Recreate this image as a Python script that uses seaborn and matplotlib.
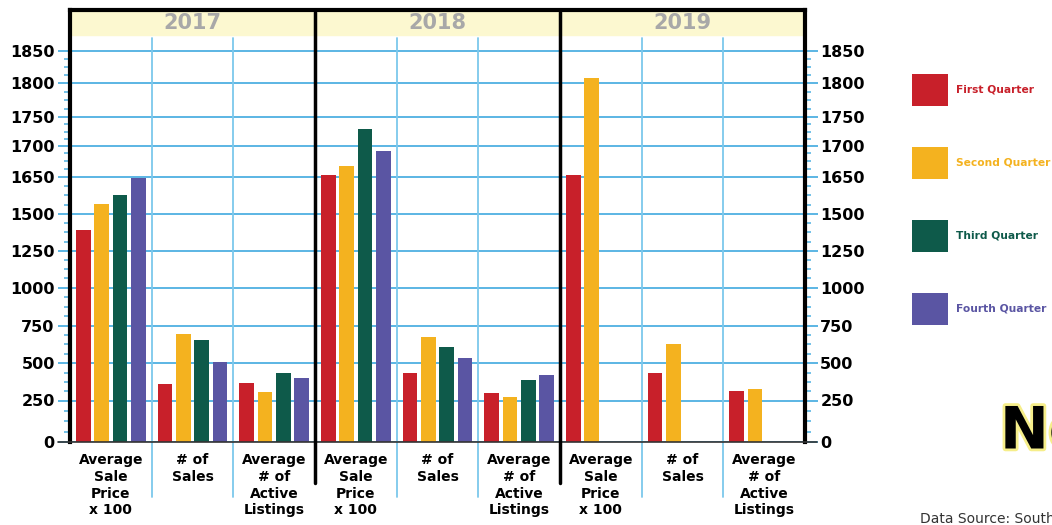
import numpy as np
import pandas as pd
import matplotlib
matplotlib.use("Agg")
import matplotlib.pyplot as plt
import matplotlib.patheffects as pe
from matplotlib.patches import Rectangle
from matplotlib.ticker import FixedLocator
import seaborn as sns

# data
years = ["2017", "2018", "2019"]
metrics = ["Average\nSale\nPrice\nx 100", "# of\nSales", "Average\n# of\nActive\nListings"]
quarters = ["First Quarter", "Second Quarter", "Third Quarter", "Fourth Quarter"]

sale_price_x100 = {"2017": [1391, 1540, 1576, 1645],
                   "2018": [1653, 1667, 1729, 1691],
                   "2019": [1653, 1808, np.nan, np.nan]}
num_sales = {"2017": [360, 694, 654, 508],
             "2018": [434, 672, 606, 533],
             "2019": [434, 626, np.nan, np.nan]}
active_listings = {"2017": [367, 307, 434, 400],
                   "2018": [300, 273, 387, 420],
                   "2019": [313, 327, np.nan, np.nan]}

# the y axis of the original is not linear: tick values and where they sit
y_ticks = [0, 250, 500, 750, 1000, 1250, 1500, 1650, 1700, 1750, 1800, 1850]
y_tick_pos = [0, 41.5, 78.8, 116.5, 154.3, 191.3, 228, 265.3, 296.3, 324.7, 358.7, 391.3]

colors = ["#C8202A", "#F4B21F", "#0E5A4A", "#5A55A3"]

rows = []
for y in years:
    for m, series in zip(metrics, [sale_price_x100, num_sales, active_listings]):
        for q, v in zip(quarters, series[y]):
            rows.append({"cat": y + " " + m, "quarter": q, "value": v})
df = pd.DataFrame(rows)
cat_order = [y + " " + m for y in years for m in metrics]

sv = np.array([-1000] + y_ticks + [2000], dtype=float)
sp = np.array([-166] + y_tick_pos + [y_tick_pos[-1] + 150 * 0.652], dtype=float)

def fwd(v):
    return np.interp(v, sv, sp)

def inv(p):
    return np.interp(p, sp, sv)

sns.set_style("white")
plt.rcParams["font.family"] = ["DejaVu Sans"]
plt.rcParams["text.color"] = "black"
plt.rcParams["xtick.labelcolor"] = "black"
plt.rcParams["ytick.labelcolor"] = "black"

fig = plt.figure(figsize=(10.52, 5.25), dpi=100)
ax = fig.add_axes([70 / 1052, 83 / 525, 735 / 1052, 432 / 525])

grid_blue = "#5BB6E4"
light_blue = "#7CC8EC"

sns.barplot(data=df, x="cat", y="value", hue="quarter", order=cat_order,
            hue_order=quarters, palette=colors, width=0.9, gap=0.2,
            saturation=1, linewidth=0, ax=ax, zorder=3)

ax.set_yscale("function", functions=(fwd, inv))
ax.set_ylim(0, inv(432))
ax.set_xlim(-0.5, len(cat_order) - 0.5)
ax.yaxis.set_major_locator(FixedLocator(y_ticks))
minor = []
for a, b in zip(y_tick_pos[:-1], y_tick_pos[1:]):
    minor += list(inv(np.linspace(a, b, 5)[1:-1]))
ax.yaxis.set_minor_locator(FixedLocator(minor))
ax.set_yticklabels([str(t) for t in y_ticks])
ax.yaxis.set_minor_formatter(plt.NullFormatter())

ax.grid(axis="y", which="major", color=grid_blue, lw=1.4, zorder=0)
ax.set_axisbelow(True)
ax.tick_params(axis="y", which="major", direction="out", length=9, width=1.4,
               color=grid_blue, labelsize=11.5, pad=2, left=True, right=True,
               labelleft=True, labelright=True, labelcolor="black")
ax.tick_params(axis="y", which="minor", direction="out", length=4, width=1.2,
               color=grid_blue, left=True, right=True)
for lab in ax.get_yticklabels():
    lab.set_fontweight("bold")

ax.set_xticks(range(len(cat_order)))
ax.set_xticklabels([m for _ in years for m in metrics], fontsize=10,
                   fontweight="bold", linespacing=1.25, va="top", color="black")
ax.tick_params(axis="x", length=0, pad=8)
ax.set_xlabel("")
ax.set_ylabel("")

for side in ["left", "right", "top"]:
    ax.spines[side].set_color("black")
    ax.spines[side].set_linewidth(3)
ax.spines["bottom"].set_visible(False)
# baseline runs a little past both side axes
ax.plot([-0.017, 1.016], [0, 0], transform=ax.get_yaxis_transform(),
        color="#333333", lw=1.2, clip_on=False, zorder=4)

# year header band
ax.add_patch(Rectangle((0, 0.942), 1, 0.058, transform=ax.transAxes,
                       color="#FCF8D0", zorder=1, clip_on=False))
xt = ax.get_xaxis_transform()
for i, y in enumerate(years):
    ax.text(i * 3 + 1, 0.97, y, transform=xt, ha="center", va="center",
            fontsize=15, fontweight="bold", color="#A8A8A8", zorder=4)

# dividers between categories and years
for i in range(1, len(cat_order)):
    if i % 3 == 0:
        ax.plot([i - 0.5, i - 0.5], [-0.095, 0.995], transform=xt, color="black",
                lw=2.5, clip_on=False, zorder=5)
    else:
        ax.plot([i - 0.5, i - 0.5], [-0.127, 0.935], transform=xt, color=light_blue,
                lw=1.3, clip_on=False, zorder=1)

handles, labels = ax.get_legend_handles_labels()
leg = ax.legend(handles, labels, loc="upper left", bbox_to_anchor=(912 / 1052, 1 - 74 / 525),
                bbox_transform=fig.transFigure, frameon=False, fontsize=7.7,
                handlelength=3.36, handleheight=4.22, labelspacing=3.84,
                handletextpad=0.75, borderpad=0, borderaxespad=0)
for t, c in zip(leg.get_texts(), colors):
    t.set_color(c)
    t.set_fontweight("bold")

fig.text(1000 / 1052, 1 - 432 / 525, "New", fontsize=42, fontweight="bold",
         color="black", va="center", ha="left",
         path_effects=[pe.withStroke(linewidth=4, foreground="#F6EE8A")])
fig.text(920 / 1052, 1 - 519 / 525, "Data Source: South", fontsize=10,
         color="#333333", va="center", ha="left")

fig.savefig("out.png", dpi=100)
